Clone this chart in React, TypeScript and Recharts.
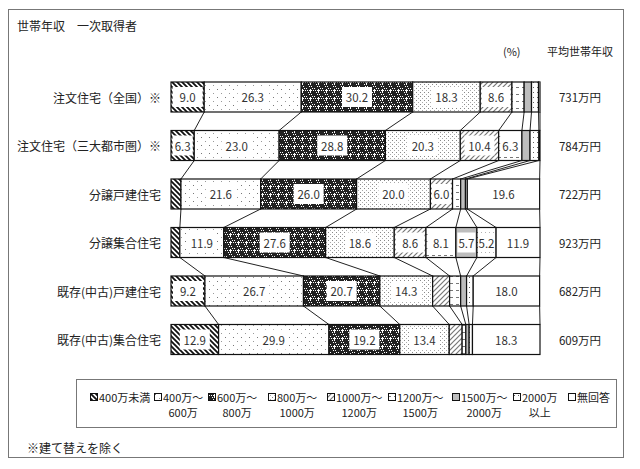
import React from "react";
import { BarChart, Bar, XAxis, YAxis, LabelList } from "recharts";

const rowNames = [
  "注文住宅（全国）※",
  "注文住宅（三大都市圏）※",
  "分譲戸建住宅",
  "分譲集合住宅",
  "既存(中古)戸建住宅",
  "既存(中古)集合住宅",
];
const avgIncome = ["731万円", "784万円", "722万円", "923万円", "682万円", "609万円"];

const bandKeys = ["b0", "b1", "b2", "b3", "b4", "b5", "b6", "b7", "b8"];
const legendLine1 = ["400万未満", "400万～", "600万～", "800万～", "1000万～", "1200万～", "1500万～", "2000万", "無回答"];
const legendLine2 = ["", "600万", "800万", "1000万", "1200万", "1500万", "2000万", "以上", ""];

const under400 = [9.0, 6.3, 2.7, 2.4, 9.2, 12.9];
const from400 = [26.3, 23.0, 21.6, 11.9, 26.7, 29.9];
const from600 = [30.2, 28.8, 26.0, 27.6, 20.7, 19.2];
const from800 = [18.3, 20.3, 20.0, 18.6, 14.3, 13.4];
const from1000 = [8.6, 10.4, 6.0, 8.6, 4.6, 3.5];
const from1200 = [3.3, 6.3, 2.2, 8.1, 3.0, 1.0];
const from1500 = [2.0, 2.2, 1.3, 5.7, 1.6, 0.9];
const over2000 = [1.9, 2.4, 0.5, 5.2, 1.8, 0.9];
const noAnswer = [0.4, 0.3, 19.6, 11.9, 18.0, 18.3];

const series = [under400, from400, from600, from800, from1000, from1200, from1500, over2000, noAnswer];

const data = rowNames.map((name, i) => {
  const row: any = { name, income: avgIncome[i] };
  bandKeys.forEach((k, j) => (row[k] = series[j][i]));
  return row;
});

const fills = [
  "url(#pHatchBold)",
  "url(#pDotsSparse)",
  "url(#pChecker)",
  "url(#pDotsDense)",
  "url(#pHatchLight)",
  "url(#pDashGrid)",
  "#bdbdbd",
  "url(#pDotsSmall)",
  "#ffffff",
];

const W = 640;
const H = 469;
const M_TOP = 73;
const M_BOTTOM = 105;
const STEP = (H - M_TOP - M_BOTTOM) / rowNames.length;
const FONT = "'Noto Sans CJK JP', 'Noto Sans', sans-serif";

const cumulative = (row: number, upto: number) => {
  let s = 0;
  for (let j = 0; j <= upto; j++) s += series[j][row];
  return s;
};

const makeShape = (k: number) => (props: any) => {
  const { x, y, width, height, index, background } = props;
  const x0 = background ? background.x : x - cumulative(index, k - 1) * (width / series[k][index]);
  const ppu = background ? background.width / 100 : width / series[k][index];
  const last = index >= rowNames.length - 1;
  const nextX = last ? 0 : x0 + cumulative(index + 1, k) * ppu;
  return (
    <g>
      <rect x={x} y={y} width={width} height={height} fill={fills[k]} stroke="#111" strokeWidth={1.2} />
      {!last && (
        <line x1={x + width} y1={y + height} x2={nextX} y2={y + STEP} stroke="#222" strokeWidth={1} />
      )}
    </g>
  );
};

const ValueLabel = (props: any) => {
  const { x, y, width, height, value } = props;
  if (value == null || value < 5) return null;
  const bw = Math.min(30, width - 3);
  const cx = x + width / 2;
  const cy = y + height / 2;
  return (
    <g>
      <rect x={cx - bw / 2} y={cy - 10} width={bw} height={20} fill="#fff" />
      <text x={cx} y={cy} textAnchor="middle" dominantBaseline="central" fontSize={11.5} fill="#333" fontFamily={FONT}>
        {Number(value).toFixed(1)}
      </text>
    </g>
  );
};

const LeftTick = (props: any) => {
  const { x, y, payload } = props;
  return (
    <text x={x - 2} y={y} textAnchor="end" dominantBaseline="central" fontSize={12} fill="#222" fontFamily={FONT}>
      {payload.value}
    </text>
  );
};

const RightTick = (props: any) => {
  const { x, y, payload } = props;
  return (
    <text x={x + 32} y={y} textAnchor="middle" dominantBaseline="central" fontSize={11.5} fill="#222" fontFamily={FONT}>
      {payload.value}
    </text>
  );
};

const Patterns = () => (
  <defs>
    <pattern id="pHatchBold" patternUnits="userSpaceOnUse" width="5" height="5">
      <rect width="5" height="5" fill="#fff" />
      <path d="M-1,-1 L6,6 M-1,4 L1,6 M4,-1 L6,1" stroke="#111" strokeWidth="1.8" />
    </pattern>
    <pattern id="pDotsSparse" patternUnits="userSpaceOnUse" width="8" height="8">
      <rect width="8" height="8" fill="#fff" />
      <rect x="1" y="1" width="1" height="1" fill="#777" />
      <rect x="5" y="5" width="1" height="1" fill="#999" />
    </pattern>
    <pattern id="pChecker" patternUnits="userSpaceOnUse" width="8" height="8">
      <rect width="8" height="8" fill="#222" />
      <rect x="0" y="0" width="1" height="1" fill="#fff" />
      <rect x="2" y="0" width="1" height="1" fill="#fff" />
      <rect x="1" y="2" width="1" height="1" fill="#fff" />
      <rect x="3" y="2" width="1" height="1" fill="#fff" />
      <rect x="4" y="4" width="1" height="1" fill="#fff" />
      <rect x="6" y="4" width="1" height="1" fill="#fff" />
      <rect x="5" y="6" width="1" height="1" fill="#fff" />
      <rect x="7" y="6" width="1" height="1" fill="#fff" />
      <rect x="6" y="1" width="1" height="3" fill="#fff" />
      <rect x="5" y="2" width="3" height="1" fill="#fff" />
    </pattern>
    <pattern id="pDotsDense" patternUnits="userSpaceOnUse" width="4" height="4">
      <rect width="4" height="4" fill="#fff" />
      <rect x="0" y="0" width="1" height="1" fill="#888" />
      <rect x="2" y="2" width="1" height="1" fill="#aaa" />
    </pattern>
    <pattern id="pHatchLight" patternUnits="userSpaceOnUse" width="5" height="5">
      <rect width="5" height="5" fill="#fff" />
      <path d="M-1,6 L6,-1 M-1,1 L1,-1 M4,6 L6,4" stroke="#777" strokeWidth="1.2" />
    </pattern>
    <pattern id="pDashGrid" patternUnits="userSpaceOnUse" width="6" height="7">
      <rect width="6" height="7" fill="#fff" />
      <path d="M0,3.5 L3,3.5" stroke="#777" strokeWidth="1" />
    </pattern>
    <pattern id="pDotsSmall" patternUnits="userSpaceOnUse" width="4" height="5">
      <rect width="4" height="5" fill="#fff" />
      <rect x="1" y="2" width="1" height="1" fill="#666" />
    </pattern>
  </defs>
);

const legendX = [90, 154, 208, 268, 327, 388, 452, 513, 568];

export default function App() {
  return (
    <div style={{ position: "absolute", left: 0, top: 0, width: W, height: H, background: "#fff", fontFamily: FONT }}>
      <div
        style={{
          position: "absolute",
          left: 8,
          top: 9,
          width: 616,
          height: 449,
          border: "1.5px solid #777",
          boxSizing: "border-box",
        }}
      />
      <div style={{ position: "absolute", left: 17, top: 17, fontSize: 12, color: "#222", whiteSpace: "pre" }}>
        世帯年収　一次取得者
      </div>
      <div style={{ position: "absolute", left: 503, top: 43, fontSize: 11, color: "#222" }}>(%)</div>
      <div style={{ position: "absolute", left: 547, top: 43, fontSize: 11, color: "#222" }}>平均世帯年収</div>

      <div style={{ position: "absolute", left: 0, top: 0 }}>
        <BarChart
          width={W}
          height={H}
          data={data}
          layout="vertical"
          margin={{ top: M_TOP, right: 0, bottom: M_BOTTOM, left: 0 }}
          barSize={30}
        >
          <Patterns />
          <XAxis type="number" domain={[0, 100]} hide />
          <YAxis
            yAxisId="left"
            type="category"
            dataKey="name"
            width={171}
            axisLine={false}
            tickLine={false}
            tick={<LeftTick />}
            interval={0}
          />
          <YAxis
            yAxisId="right"
            orientation="right"
            type="category"
            dataKey="income"
            width={100}
            axisLine={false}
            tickLine={false}
            tick={<RightTick />}
            interval={0}
          />
          {bandKeys.map((k, j) => (
            <Bar
              key={k}
              dataKey={k}
              stackId="s"
              yAxisId="left"
              fill={fills[j]}
              shape={makeShape(j)}
              isAnimationActive={false}
            >
              <LabelList dataKey={k} content={<ValueLabel />} />
            </Bar>
          ))}
        </BarChart>
      </div>

      <div
        style={{
          position: "absolute",
          left: 76,
          top: 379,
          width: 541,
          height: 49,
          border: "1.5px solid #777",
          boxSizing: "border-box",
        }}
      />
      {legendLine1.map((t, j) => (
        <div key={t} style={{ position: "absolute", left: legendX[j], top: 389, fontSize: 11, color: "#222" }}>
          <div style={{ display: "flex", alignItems: "center" }}>
            <svg width={8} height={8} style={{ marginRight: 1 }}>
              <rect x={0.5} y={0.5} width={7} height={7} fill={fills[j]} stroke="#111" strokeWidth={1} />
            </svg>
            <span>{t}</span>
          </div>
          <div style={{ textAlign: "center", paddingLeft: 9, lineHeight: "15px" }}>{legendLine2[j]}</div>
        </div>
      ))}
      <div style={{ position: "absolute", left: 27, top: 439, fontSize: 12, color: "#222" }}>※建て替えを除く</div>
    </div>
  );
}
